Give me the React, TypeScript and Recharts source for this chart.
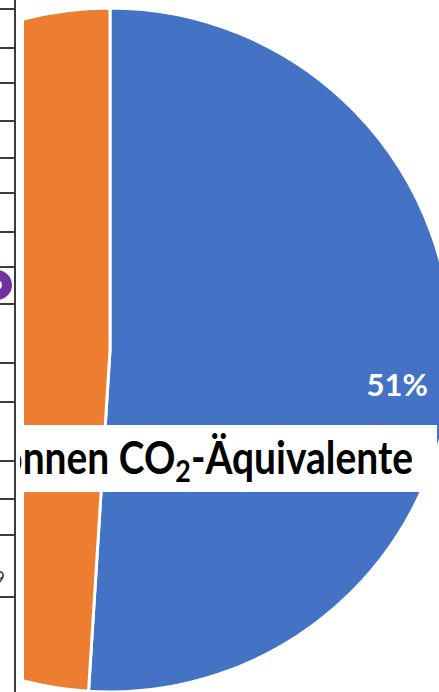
import React from 'react';
import { PieChart, Pie, Cell } from 'recharts';

const categories = ['Anteil A', 'Anteil B'];
const shares = [51, 49];
const sliceColors = ['#4472C4', '#ED7D31'];
const titleMain = 'Tonnen CO';
const titleSub = '2';
const titleTail = '-Äquivalente';
const rowLineYs = [9, 48, 83, 121, 158, 193, 232, 267, 304, 363, 402, 461, 499, 535, 597];

const data = categories.map((name, i) => ({ name, value: shares[i] }));
const RAD = Math.PI / 180;

const renderLabel = (props: any) => {
  const { cx, cy, midAngle, outerRadius, percent } = props;
  const r = outerRadius * 0.84;
  const x = cx + r * Math.cos(-midAngle * RAD);
  const y = cy + r * Math.sin(-midAngle * RAD);
  return (
    <text
      x={x}
      y={y + 25}
      fill="#ffffff"
      textAnchor="middle"
      dominantBaseline="central"
      fontFamily="Lato, 'Open Sans', sans-serif"
      fontWeight={700}
      fontSize={31}
    >
      {`${Math.round(percent * 100)}%`}
    </text>
  );
};

export default function App() {
  return (
    <div style={{ position: 'fixed', left: 0, top: 0, width: 439, height: 692, overflow: 'hidden', background: '#ffffff' }}>
      <div style={{ position: 'absolute', left: 24, top: 0 }}>
        <PieChart width={415} height={692} margin={{ top: 0, right: 0, bottom: 0, left: 0 }}>
          <Pie
            data={data}
            dataKey="value"
            nameKey="name"
            cx={86}
            cy={350}
            outerRadius={342}
            innerRadius={0}
            startAngle={90}
            endAngle={-270}
            stroke="#ffffff"
            strokeWidth={3}
            label={renderLabel}
            labelLine={false}
            isAnimationActive={false}
          >
            {data.map((d, i) => (
              <Cell key={d.name} fill={sliceColors[i]} />
            ))}
          </Pie>
        </PieChart>
      </div>
      <svg width={439} height={692} style={{ position: 'absolute', left: 0, top: 0 }}>
        <rect x={0} y={425} width={437} height={67} fill="#ffffff" />
        <g transform="translate(413,474) scale(0.865,1)">
          <text
            x={0}
            y={0}
            textAnchor="end"
            fill="#000000"
            fontFamily="Lato, 'Open Sans', sans-serif"
            fontWeight={700}
            fontSize={45}
          >
            {titleMain}
            <tspan fontSize={31} dy={8}>{titleSub}</tspan>
            <tspan dy={-8}>{titleTail}</tspan>
          </text>
        </g>
        <rect x={0} y={0} width={20} height={692} fill="#ffffff" />
        {rowLineYs.map((y) => (
          <line key={y} x1={0} x2={16} y1={y} y2={y} stroke="#3c3c3c" strokeWidth={2} />
        ))}
        <line x1={15} x2={15} y1={0} y2={692} stroke="#3c3c3c" strokeWidth={2} />
        <circle cx={-3} cy={285} r={10} fill="none" stroke="#7030A0" strokeWidth={10} />
        <text x={5} y={585} textAnchor="end" fill="#444444" fontFamily="Lato, sans-serif" fontSize={20}>9</text>
      </svg>
    </div>
  );
}
